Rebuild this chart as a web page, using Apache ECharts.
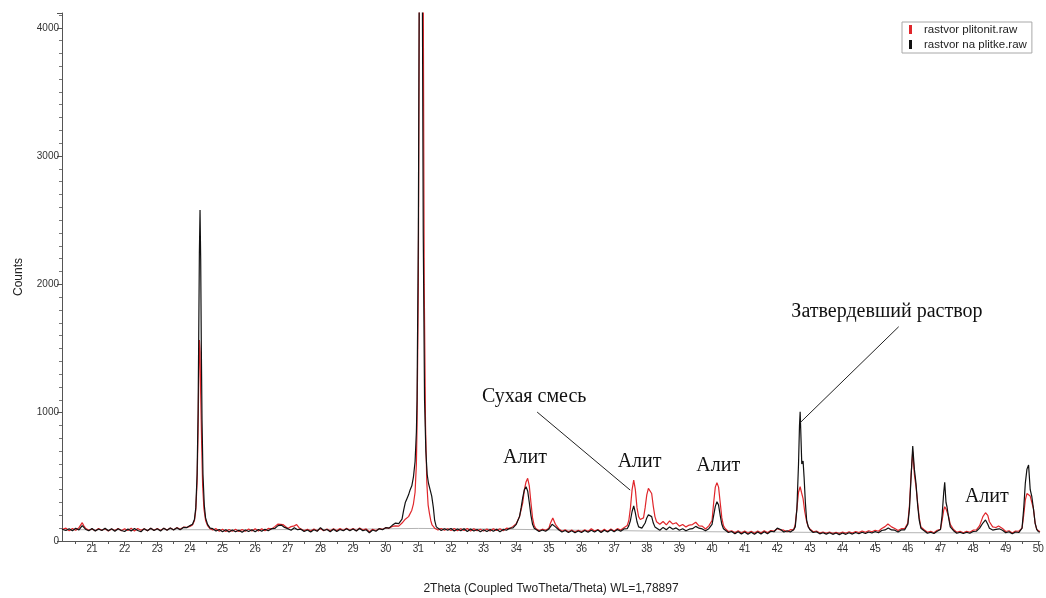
<!DOCTYPE html>
<html>
<head>
<meta charset="utf-8">
<script src="https://cdn.jsdelivr.net/npm/echarts@6/dist/echarts.min.js"></script>
<style>html,body{margin:0;padding:0;background:#fff}#c{width:1046px;height:598px}</style>
</head>
<body>
<div id="c"></div>
<script>
const seriesNames = ['rastvor plitonit.raw', 'rastvor na plitke.raw'];
const xTickValues = [21,22,23,24,25,26,27,28,29,30,31,32,33,34,35,36,37,38,39,40,41,42,43,44,45,46,47,48,49,50];
const xMinorValues = [20.5,21.5,22.5,23.5,24.5,25.5,26.5,27.5,28.5,29.5,30.5,31.5,32.5,33.5,34.5,35.5,36.5,37.5,38.5,39.5,40.5,41.5,42.5,43.5,44.5,45.5,46.5,47.5,48.5,49.5];

// red pattern: rastvor plitonit.raw  [2theta, counts]
const redPts = [
[20.08,90],[20.1,88],[20.2,100],[20.3,80],[20.4,98],[20.5,84],[20.6,104],[20.7,143],[20.75,118],[20.8,100],[20.9,84],
[21.0,94],[21.1,80],[21.2,98],[21.3,84],[21.4,96],[21.5,78],[21.6,94],[21.7,82],[21.8,98],[21.9,80],
[22.0,96],[22.1,82],[22.2,100],[22.3,78],[22.4,98],[22.5,84],[22.6,96],[22.7,80],[22.8,100],[22.9,84],
[23.0,98],[23.1,82],[23.2,100],[23.3,86],[23.4,102],[23.5,88],[23.6,104],[23.7,92],[23.8,108],[23.9,106],
[24.0,114],[24.08,125],[24.14,160],[24.18,240],[24.22,460],[24.25,850],[24.27,1250],[24.29,1567],[24.31,1480],[24.33,1150],[24.36,750],[24.39,430],[24.43,250],[24.48,160],[24.54,120],[24.62,95],
[24.7,86],[24.8,96],[24.9,76],[25.0,92],[25.1,74],[25.2,90],[25.3,76],[25.4,92],[25.5,74],[25.6,90],[25.7,76],[25.8,94],[25.9,78],
[26.0,96],[26.1,78],[26.2,96],[26.3,80],[26.4,98],[26.5,94],[26.6,112],[26.7,132],[26.76,142],[26.85,128],[26.9,118],
[27.0,98],[27.1,112],[27.2,118],[27.27,128],[27.35,102],[27.4,96],[27.5,80],[27.6,92],[27.7,78],[27.8,94],[27.9,80],
[28.0,98],[28.1,80],[28.2,94],[28.3,78],[28.4,96],[28.5,80],[28.6,98],[28.7,82],[28.8,100],[28.9,84],
[29.0,98],[29.1,80],[29.2,102],[29.3,86],[29.4,94],[29.5,72],[29.6,92],[29.7,82],[29.8,96],[29.9,90],
[30.0,104],[30.1,100],[30.2,114],[30.3,118],[30.35,128],[30.4,116],[30.5,140],[30.6,170],[30.7,190],[30.75,200],[30.8,240],[30.85,290],[30.9,380],[30.94,600],
[30.96,900],[31.0,2000],[31.03,4300],[31.07,9500],[31.11,9500],[31.15,4300],[31.18,2000],[31.22,900],
[31.26,450],[31.3,280],[31.34,216],[31.38,160],[31.42,125],[31.5,100],[31.6,86],[31.7,98],[31.8,84],[31.9,96],
[32.0,82],[32.1,98],[32.2,80],[32.3,96],[32.4,82],[32.5,98],[32.6,78],[32.7,96],[32.8,80],[32.9,92],
[33.0,78],[33.1,94],[33.2,78],[33.3,96],[33.4,82],[33.5,96],[33.6,80],[33.7,100],[33.8,96],[33.9,114],
[34.0,135],[34.1,190],[34.2,300],[34.25,400],[34.3,460],[34.35,489],[34.4,430],[34.45,300],[34.5,180],[34.55,120],[34.6,98],[34.7,80],[34.8,92],[34.9,84],
[35.0,100],[35.05,140],[35.12,180],[35.2,130],[35.3,96],[35.4,76],[35.5,88],[35.6,72],[35.7,86],[35.8,70],[35.9,84],
[36.0,72],[36.1,88],[36.2,74],[36.3,96],[36.4,78],[36.5,90],[36.6,72],[36.7,92],[36.8,74],[36.9,94],
[37.0,78],[37.1,96],[37.2,86],[37.3,104],[37.4,120],[37.45,160],[37.5,260],[37.55,400],[37.6,475],[37.65,400],[37.7,260],[37.75,190],[37.8,168],[37.85,164],[37.9,180],[37.95,260],
[38.0,360],[38.05,410],[38.1,418],[38.15,370],[38.2,270],[38.25,190],[38.3,150],[38.4,130],[38.5,152],[38.6,126],[38.7,156],[38.8,132],[38.9,142],
[39.0,116],[39.1,128],[39.2,110],[39.3,124],[39.4,128],[39.5,146],[39.6,118],[39.7,116],[39.8,94],[39.9,118],
[40.0,160],[40.05,300],[40.1,420],[40.15,455],[40.2,420],[40.25,300],[40.3,180],[40.35,120],[40.4,98],[40.5,74],[40.6,80],[40.7,64],[40.8,80],[40.9,62],
[41.0,78],[41.1,60],[41.2,76],[41.3,60],[41.4,78],[41.5,62],[41.6,80],[41.7,64],[41.8,82],[41.9,78],
[42.0,96],[42.05,104],[42.1,86],[42.2,84],[42.3,72],[42.4,88],[42.5,86],[42.55,130],[42.6,250],[42.65,380],[42.7,423],[42.74,380],[42.79,330],[42.84,230],[42.9,150],[42.95,110],
[43.0,94],[43.1,72],[43.2,78],[43.3,62],[43.4,70],[43.5,60],[43.6,70],[43.7,58],[43.8,68],[43.9,58],
[44.0,70],[44.1,60],[44.2,72],[44.3,62],[44.4,74],[44.5,66],[44.6,78],[44.7,68],[44.8,80],[44.9,72],
[45.0,84],[45.1,76],[45.2,98],[45.3,112],[45.39,132],[45.5,110],[45.6,98],[45.7,82],[45.8,96],[45.9,96],
[46.0,140],[46.05,280],[46.1,520],[46.15,697],[46.2,520],[46.25,423],[46.3,300],[46.35,180],[46.4,110],[46.5,88],[46.6,68],[46.7,76],[46.8,64],[46.9,84],
[47.0,90],[47.05,160],[47.1,240],[47.13,267],[47.17,250],[47.2,242],[47.25,190],[47.3,130],[47.4,90],[47.5,68],[47.6,76],[47.7,64],[47.8,76],[47.9,68],
[48.0,84],[48.1,86],[48.2,120],[48.3,190],[48.38,220],[48.45,200],[48.5,150],[48.6,110],[48.7,105],[48.78,117],[48.9,98],
[49.0,74],[49.1,80],[49.2,62],[49.3,78],[49.4,76],[49.5,100],[49.55,200],[49.6,320],[49.65,370],[49.7,372],[49.75,350],[49.8,358],[49.85,250],[49.9,140],[49.95,90],
[50.0,75],[50.05,72]
];

// black pattern: rastvor na plitke.raw  [2theta, counts]
const blackPts = [
[20.08,92],[20.1,98],[20.2,82],[20.3,96],[20.4,80],[20.5,100],[20.6,86],[20.7,120],[20.8,92],[20.9,80],
[21.0,98],[21.1,78],[21.2,94],[21.3,82],[21.4,100],[21.5,80],[21.6,95],[21.7,76],[21.8,96],[21.9,82],
[22.0,74],[22.1,94],[22.2,78],[22.3,98],[22.4,82],[22.5,72],[22.6,96],[22.7,80],[22.8,100],[22.9,82],
[23.0,96],[23.1,78],[23.2,100],[23.3,84],[23.4,102],[23.5,86],[23.6,104],[23.7,88],[23.8,106],[23.9,104],
[24.0,120],[24.08,130],[24.14,170],[24.18,260],[24.22,520],[24.25,1000],[24.27,1600],[24.29,2250],[24.31,2580],[24.33,2200],[24.35,1500],[24.37,950],[24.4,520],[24.44,280],[24.48,180],[24.54,130],[24.62,100],
[24.7,96],[24.8,78],[24.9,90],[25.0,72],[25.1,88],[25.2,70],[25.3,86],[25.4,72],[25.5,84],[25.6,68],[25.7,86],[25.8,74],[25.9,88],
[26.0,72],[26.1,90],[26.2,76],[26.3,92],[26.4,80],[26.5,96],[26.6,98],[26.7,120],[26.8,124],[26.9,106],
[27.0,96],[27.1,84],[27.2,104],[27.3,88],[27.4,92],[27.5,74],[27.6,86],[27.7,70],[27.8,88],[27.9,76],
[28.0,104],[28.1,82],[28.2,90],[28.3,72],[28.4,92],[28.5,74],[28.6,90],[28.7,80],[28.8,96],[28.9,80],
[29.0,94],[29.1,78],[29.2,98],[29.3,80],[29.4,88],[29.5,64],[29.6,86],[29.7,76],[29.8,96],[29.9,88],
[30.0,104],[30.1,100],[30.2,122],[30.3,140],[30.35,150],[30.4,135],[30.5,170],[30.55,240],[30.6,300],[30.65,330],[30.7,360],[30.75,400],[30.8,430],[30.85,500],[30.9,620],[30.94,850],
[30.96,1100],[31.0,2400],[31.03,4500],[31.06,9000],[31.09,9500],[31.12,4500],[31.15,2400],[31.19,1100],
[31.23,700],[31.27,520],[31.31,450],[31.36,400],[31.41,350],[31.46,260],[31.5,160],[31.55,110],[31.6,96],[31.7,82],[31.8,96],[31.9,84],
[32.0,98],[32.1,78],[32.2,94],[32.3,80],[32.4,96],[32.5,74],[32.6,94],[32.7,78],[32.8,90],[32.9,72],
[33.0,88],[33.1,74],[33.2,90],[33.3,76],[33.4,92],[33.5,72],[33.6,90],[33.7,84],[33.8,100],[33.9,102],
[34.0,130],[34.1,190],[34.15,260],[34.2,340],[34.25,400],[34.3,423],[34.35,390],[34.4,300],[34.45,200],[34.5,130],[34.55,100],[34.6,92],[34.7,74],[34.8,86],[34.9,76],
[35.0,94],[35.1,130],[35.15,140],[35.2,110],[35.3,88],[35.4,70],[35.5,82],[35.6,66],[35.7,80],[35.8,64],[35.9,78],
[36.0,66],[36.1,82],[36.2,68],[36.3,84],[36.4,70],[36.5,86],[36.6,66],[36.7,84],[36.8,70],[36.9,88],
[37.0,72],[37.1,90],[37.2,76],[37.3,94],[37.4,96],[37.45,120],[37.5,160],[37.55,230],[37.6,273],[37.65,220],[37.7,150],[37.75,110],[37.8,100],[37.85,100],[37.9,110],[37.95,140],
[38.0,180],[38.05,205],[38.1,216],[38.15,190],[38.2,140],[38.25,110],[38.3,100],[38.4,84],[38.5,106],[38.6,88],[38.7,110],[38.8,92],[38.9,102],
[39.0,84],[39.1,96],[39.2,80],[39.3,92],[39.4,96],[39.5,114],[39.6,100],[39.7,94],[39.8,80],[39.9,96],
[40.0,130],[40.05,200],[40.1,270],[40.15,306],[40.2,280],[40.25,200],[40.3,130],[40.35,95],[40.4,84],[40.5,66],[40.6,74],[40.7,56],[40.8,72],[40.9,54],
[41.0,70],[41.1,52],[41.2,68],[41.3,52],[41.4,70],[41.5,54],[41.6,72],[41.7,56],[41.8,76],[41.9,72],
[42.0,100],[42.05,112],[42.1,90],[42.2,70],[42.3,80],[42.4,70],[42.5,88],[42.55,110],[42.6,250],[42.65,600],[42.68,900],[42.7,1008],[42.72,850],[42.75,600],[42.79,624],[42.82,500],[42.86,300],[42.9,160],[42.95,110],
[43.0,88],[43.1,66],[43.2,72],[43.3,56],[43.4,64],[43.5,54],[43.6,64],[43.7,52],[43.8,62],[43.9,50],
[44.0,62],[44.1,52],[44.2,64],[44.3,54],[44.4,66],[44.5,56],[44.6,68],[44.7,58],[44.8,70],[44.9,62],
[45.0,74],[45.1,64],[45.2,82],[45.3,86],[45.4,102],[45.5,86],[45.6,84],[45.7,70],[45.8,86],[45.9,86],
[46.0,130],[46.05,250],[46.1,500],[46.15,740],[46.2,560],[46.25,450],[46.3,280],[46.35,160],[46.4,100],[46.5,80],[46.6,60],[46.7,68],[46.8,58],[46.9,76],
[47.0,90],[47.05,200],[47.1,380],[47.13,457],[47.17,300],[47.2,267],[47.25,180],[47.3,110],[47.4,80],[47.5,60],[47.6,68],[47.7,58],[47.8,68],[47.9,60],
[48.0,74],[48.1,76],[48.2,100],[48.3,140],[48.38,164],[48.45,130],[48.5,100],[48.6,85],[48.7,90],[48.8,95],[48.9,84],
[49.0,64],[49.1,72],[49.2,56],[49.3,70],[49.4,66],[49.5,100],[49.55,250],[49.6,450],[49.65,560],[49.7,592],[49.75,400],[49.8,345],[49.85,250],[49.9,140],[49.95,90],
[50.0,72],[50.05,70]
];

// grey background curve
const bgPts = [[20.08,88],[26,88],[29,92],[31,98],[33,94],[36,84],[40,72],[44,66],[50.05,62]];

const noteTexts = ['Алит', 'Сухая смесь', 'Алит', 'Алит', 'Затвердевший раствор', 'Алит'];

const chart = echarts.init(document.getElementById('c'), null, {renderer: 'canvas'});

const sansFont = '"Liberation Sans", Arial, sans-serif';
const serifFont = '"Liberation Serif", "Times New Roman", serif';

const option = {
  animation: false,
  backgroundColor: '#fff',
  grid: {left: 62, right: 6, top: 13, bottom: 57, containLabel: false, outerBoundsMode: 'none'},
  legend: {
    data: seriesNames,
    orient: 'vertical',
    left: 902, top: 22,
    icon: 'rect', itemWidth: 3, itemHeight: 9, itemGap: 2,
    padding: [1, 5, 2, 7],
    borderColor: '#a8a8a8', borderWidth: 1, backgroundColor: '#fff',
    textStyle: {fontSize: 11.5, color: '#222', fontFamily: sansFont, padding: [0, 0, 0, 7], lineHeight: 13}
  },
  xAxis: [{
    type: 'value', min: 20.08, max: 50.05, position: 'bottom',
    axisLine: {show: true, onZero: false, lineStyle: {color: '#555', width: 1}},
    axisTick: {show: true, customValues: xTickValues, length: 5, lineStyle: {color: '#555'}},
    axisLabel: {customValues: xTickValues, fontSize: 10, color: '#333', margin: 3, fontFamily: sansFont},
    splitLine: {show: false},
    name: '2Theta (Coupled TwoTheta/Theta) WL=1,78897',
    nameLocation: 'middle', nameGap: 42,
    nameTextStyle: {fontSize: 12, color: '#222', fontFamily: sansFont}
  }, {
    type: 'value', min: 20.08, max: 50.05, position: 'bottom', gridIndex: 0,
    axisLine: {show: false, onZero: false},
    axisTick: {show: true, customValues: xMinorValues, length: 3, lineStyle: {color: '#555'}},
    axisLabel: {show: false},
    splitLine: {show: false}
  }],
  yAxis: {
    type: 'value', min: 0, max: 4115, interval: 1000,
    axisLine: {show: true, lineStyle: {color: '#555', width: 1}},
    axisTick: {show: true, length: 5, lineStyle: {color: '#555'}},
    minorTick: {show: true, splitNumber: 10, length: 3, lineStyle: {color: '#777'}},
    axisLabel: {fontSize: 10, color: '#333', margin: 3, fontFamily: sansFont,
                showMaxLabel: false, formatter: v => String(v)},
    splitLine: {show: false},
    minorSplitLine: {show: false},
    name: 'Counts', nameLocation: 'middle', nameGap: 37, nameRotate: 90,
    nameTextStyle: {fontSize: 12, color: '#222', fontFamily: sansFont}
  },
  series: [
    {
      type: 'line', name: 'background', data: bgPts, showSymbol: false, symbol: 'none',
      lineStyle: {color: '#b4b4b4', width: 1}, silent: true, z: 1
    },
    {
      type: 'line', name: seriesNames[0], data: redPts, showSymbol: false, symbol: 'none',
      color: '#e0262b', lineStyle: {color: '#e0262b', width: 1.2}, silent: true, clip: true, z: 2
    },
    {
      type: 'line', name: seriesNames[1], data: blackPts, showSymbol: false, symbol: 'none',
      color: '#111', lineStyle: {color: '#111', width: 1.2}, silent: true, clip: true, z: 3
    },
    {
      type: 'line', name: 'notes', data: [], silent: true, z: 5,
      markLine: {
        silent: true, symbol: ['none', 'none'], animation: false,
        lineStyle: {color: '#222', width: 1, type: 'solid'},
        label: {show: false},
        data: [
          [{coord: [34.64, 1005]}, {coord: [37.49, 397]}],
          [{coord: [45.72, 1670]}, {coord: [42.70, 922]}]
        ]
      },
      markPoint: {
        silent: true, symbol: 'rect', symbolSize: 1, animation: false,
        itemStyle: {color: 'rgba(0,0,0,0)'},
        label: {show: true, position: 'inside', formatter: p => p.name,
                fontFamily: serifFont, fontSize: 20, color: '#111'},
        data: [
          {name: noteTexts[0], coord: [34.27, 647]},
          {name: noteTexts[1], coord: [34.55, 1122]},
          {name: noteTexts[2], coord: [37.78, 616]},
          {name: noteTexts[3], coord: [40.19, 585]},
          {name: noteTexts[4], coord: [45.36, 1785]},
          {name: noteTexts[5], coord: [48.42, 343]}
        ]
      }
    }
  ]
};
chart.setOption(option);
</script>
</body>
</html>
